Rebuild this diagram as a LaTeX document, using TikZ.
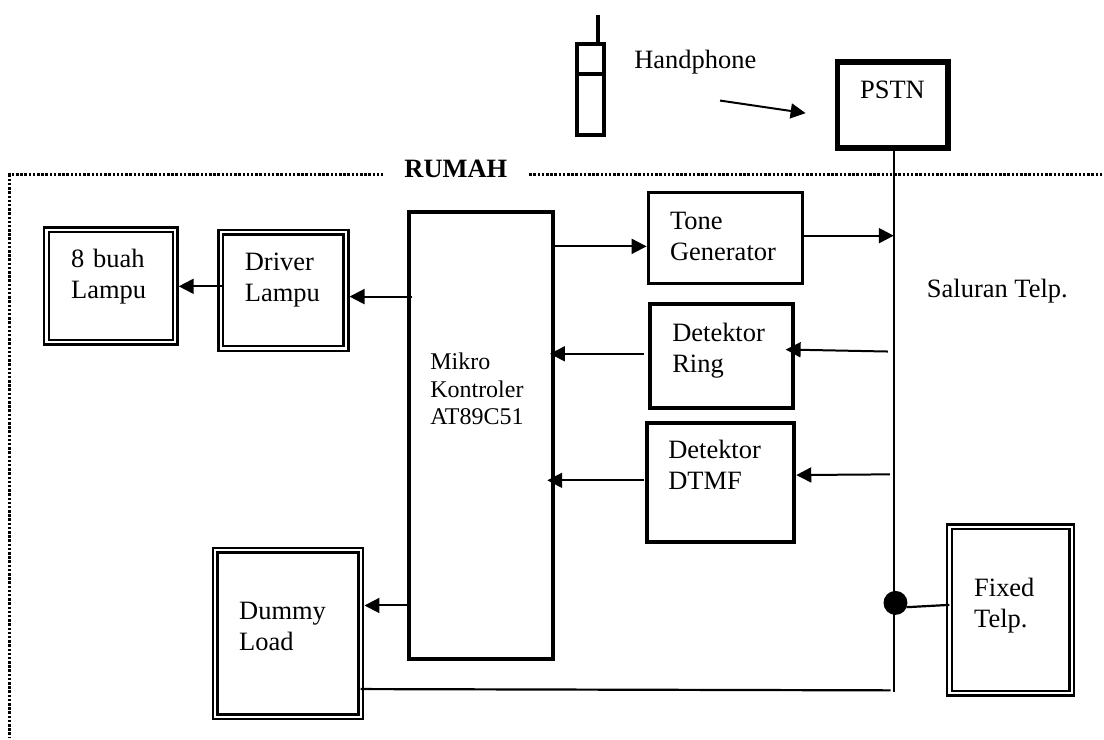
\documentclass[tikz,border=0pt]{standalone}
\usepackage{fontspec}
\setmainfont{Liberation Serif}
\usetikzlibrary{arrows.meta, positioning}

\begin{document}
\begin{tikzpicture}[
    x=1pt, y=-1pt,
    font=\fontsize{26.5}{31}\selectfont,
    box/.style={draw, line width=4pt, inner sep=0pt, outer sep=2pt, align=left, text height=10pt},
    dbox/.style={draw, line width=2.5pt, double, double distance=2.1pt, inner sep=0pt, outer sep=3.55pt, align=left, text height=10pt},
    pstnbox/.style={box, line width=5.6pt, outer sep=2.8pt},
    arr/.style={-{Triangle[length=15pt, width=15pt]}, line width=2pt},
    wire/.style={line width=2.2pt},
    dotline/.style={line width=3pt, dash pattern=on 2.5pt off 1.7pt},
]

% ============ handphone and exchange ============
\node[box, line width=3.6pt, minimum width=27, minimum height=91] (phone) at (591.2,89.7) {};
\coordinate (phone_top) at (599,15);
\coordinate (phone_split) at (577,74);
\coordinate (phone_from) at (721,100.7);
\coordinate (phone_to) at (806.7,113.3);
\draw[line width=3.6pt] (phone_top) -- (phone.north -| phone_top);
\draw[line width=3.6pt] (phone_split) -- (phone.east |- phone_split);
\node[anchor=base west, inner sep=0pt] (phone_lab) at (635,68.5) {Handphone};
\draw[arr] (phone_from) -- (phone_to);
\node[pstnbox, minimum width=110.5, minimum height=86.4, text width=65, text depth=22.4pt] (pstn) at (893.8,105) {PSTN};

% ============ house border ============
\node[font=\fontsize{26.5}{31}\selectfont\bfseries, inner sep=0pt] (rumah) at (456.5,169) {RUMAH};
\draw[dotline] (384,175) -- (10,175) -- (10,739);
\draw[dotline] (530,175) -- (1104,175);

% ============ telephone line ============
\coordinate (line_end) at (895,693);
\draw[wire] (pstn.south -| line_end) -- (line_end);
\node[anchor=base west, inner sep=0pt] (saluran) at (928,298) {Saluran Telp.};
\node[circle, fill, inner sep=0pt, minimum size=24] (dot) at (896.7,603.7) {};

% ============ controller and its blocks ============
\node[box, font=\fontsize{24}{27.5}\selectfont, minimum width=145, minimum height=447.5, text width=101.6, text depth=141.8pt] (mikro) at (481.7,436.2) {Mikro\\Kontroler\\AT89C51};
\node[box, line width=3.6pt, outer sep=1.8pt, minimum width=154.5, minimum height=91, text width=111, text depth=25.8pt] (tone) at (726.5,238.2) {Tone\\Generator};
\node[box, minimum width=143.5, minimum height=104, text width=99, text depth=38.8pt] (ring) at (722.7,356.7) {Detektor\\Ring};
\node[box, minimum width=147.5, minimum height=119.4, text width=104.8, text depth=57.4pt] (dtmf) at (721.6,483) {Detektor\\DTMF};
\node[dbox, minimum width=125.5, minimum height=116.3, text width=77, text depth=49.6pt] (driver) at (283.7,290.8) {Driver\\Lampu};
\node[dbox, minimum width=128.8, minimum height=112.6, text width=79.6, text depth=46.6pt] (lampu) at (111,286.3) {8 buah\\Lampu};
\node[dbox, minimum width=146, minimum height=166.6, text width=97.8, text depth=38.6pt] (dummy) at (288.4,634.3) {Dummy\\Load};
\node[dbox, minimum width=122.5, minimum height=166.6, text width=73, text depth=37.4pt] (fixed) at (1012,610.7) {Fixed\\Telp.};

% ============ connectors ============
\draw[arr] (mikro.east |- 0,246.7) -- (tone.west |- 0,246.7);
\draw[arr] (tone.east |- 0,236) -- (line_end |- 0,236);
\coordinate (ring_from) at (889,352);
\coordinate (ring_tip) at (786.7,350);
\draw[arr] (ring_from) -- (ring_tip);
\coordinate (ring_out) at (645,354.3);
\draw[arr] (ring_out) -- ++(-94.3,0);
\coordinate (dtmf_from) at (891,475);
\draw[arr] (dtmf_from) -- (dtmf.east |- 0,475.7);
\coordinate (dtmf_out) at (645,481);
\draw[arr] (dtmf_out) -- ++(-97,0);
\coordinate (driver_in) at (412.7,297);
\draw[arr] (driver_in) -- (driver.east |- driver_in);
\coordinate (lampu_in) at (223,286.7);
\draw[arr] (lampu_in) -- (lampu.east |- lampu_in);
\draw[arr] (mikro.west |- 0,606.3) -- (dummy.east |- 0,606.3);
\coordinate (fixed_in) at (950.7,605.7);
\draw[wire] (dot.east) ++(-1,4.3) -- (fixed_in);
\coordinate (load_from) at (361,690);
\coordinate (load_end) at (891.7,691.3);
\draw[wire] (load_from) -- (load_end);

\useasboundingbox (0,0) rectangle (1104,739);
\end{tikzpicture}
\end{document}
